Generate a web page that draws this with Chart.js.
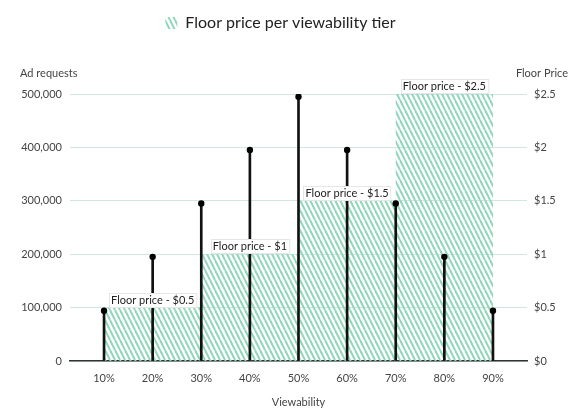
<!DOCTYPE html>
<html><head><meta charset="utf-8">
<script src="https://cdn.jsdelivr.net/npm/chart.js@4.4.0/dist/chart.umd.min.js"></script>
<style>html,body{margin:0;padding:0;background:#fff;}#wrap{width:579px;height:413px;}</style>
</head><body><div id="wrap"><canvas id="c"></canvas></div>
<script>
const categories = [10, 20, 30, 40, 50, 60, 70, 80, 90];
const adRequests = [94000, 195000, 295000, 395000, 495000, 395000, 295000, 195000, 94000];
const tierStarts = [10, 30, 50, 70, 90];
const tierPrices = [0.5, 1, 1.5, 2.5, 2.5];
const tierLabels = ['Floor price - $0.5', 'Floor price - $1', 'Floor price - $1.5', 'Floor price - $2.5'];
const tierLabelAt = [20, 40, 60, 80];
const leftTicks = [0, 100000, 200000, 300000, 400000, 500000];
const rightTicks = [0, 0.5, 1, 1.5, 2, 2.5];

const FONT = 'Lato, "Open Sans", sans-serif';

function makePattern() {
  const c = document.createElement('canvas');
  c.width = 5; c.height = 10;
  const x = c.getContext('2d');
  x.strokeStyle = '#8fd6bb';
  x.lineWidth = 2;
  for (const o of [-5, 0, 5]) {
    x.beginPath(); x.moveTo(o, 0); x.lineTo(o + 5, 10); x.stroke();
  }
  return x.createPattern(c, 'repeat');
}
const hatch = makePattern();

const legendSize = {
  id: 'legendSize',
  beforeLayout(chart) {
    const lg = chart.legend;
    if (lg && !lg._patched) {
      const orig = lg.fit;
      lg.fit = function () { orig.call(this); this.height = 88; };
      lg._patched = true;
    }
  },
  afterLayout(chart) {
    const lg = chart.legend;
    if (lg) { lg.left -= 9; lg.right -= 9; }
  }
};

const overlay = {
  id: 'overlay',
  afterDatasetsDraw(chart) {
    const ctx = chart.ctx;
    const xs = chart.scales.x, y2 = chart.scales.y2;
    ctx.save();
    ctx.font = '11px ' + FONT;
    ctx.fillStyle = '#444';
    ctx.textBaseline = 'middle';
    ctx.textAlign = 'left';
    ctx.fillText('Ad requests', 20, 73);
    ctx.textAlign = 'right';
    ctx.fillText('Floor Price', 568, 73);

    ctx.font = '11px ' + FONT;
    tierLabels.forEach((t, i) => {
      const cx = xs.getPixelForValue(tierLabelAt[i]);
      const top = y2.getPixelForValue(tierPrices[i]);
      const w = ctx.measureText(t).width + 4;
      const h = 14;
      const bx = Math.round(cx - w / 2) + 0.5, by = Math.round(top - h - 1) + 0.5;
      ctx.fillStyle = '#fff';
      ctx.fillRect(bx, by, w, h);
      ctx.strokeStyle = '#e6e6e6';
      ctx.lineWidth = 1;
      ctx.strokeRect(bx, by, w, h);
      ctx.fillStyle = '#222';
      ctx.textAlign = 'center';
      ctx.fillText(t, cx, by + h / 2);
    });
    ctx.restore();
  }
};

new Chart(document.getElementById('c'), {
  type: 'bar',
  data: {
    datasets: [
      {
        type: 'line',
        label: 'Floor price per viewability tier',
        data: tierStarts.map((x, i) => ({ x: x, y: tierPrices[i] })),
        yAxisID: 'y2',
        stepped: 'before',
        fill: 'origin',
        backgroundColor: hatch,
        borderColor: 'rgba(0,0,0,0)',
        borderWidth: 0,
        pointRadius: 0,
        order: 3
      },
      {
        type: 'bar',
        label: 'Ad requests stem',
        data: categories.map((x, i) => ({ x: x, y: adRequests[i] })),
        yAxisID: 'y',
        barThickness: 2,
        backgroundColor: '#111',
        order: 2
      },
      {
        type: 'line',
        label: 'Ad requests',
        data: categories.map((x, i) => ({ x: x, y: adRequests[i] })),
        yAxisID: 'y',
        showLine: false,
        pointRadius: 3.2,
        pointBackgroundColor: '#000',
        pointBorderWidth: 0,
        order: 1
      }
    ]
  },
  options: {
    responsive: true,
    maintainAspectRatio: false,
    animation: false,
    layout: { padding: { top: 6, left: 0, right: 0, bottom: 0 } },
    plugins: {
      legend: {
        display: true,
        position: 'top',
        labels: {
          filter: (item) => item.datasetIndex === 0,
          boxWidth: 12, boxHeight: 12,
          color: '#222',
          font: { family: FONT, size: 16 },
          padding: 9
        }
      },
      tooltip: { enabled: false }
    },
    scales: {
      x: {
        type: 'linear',
        offset: false,
        min: 3, max: 97,
        afterBuildTicks: (s) => { s.ticks = categories.map(v => ({ value: v })); },
        afterFit: (s) => { s.height = 52; },
        ticks: { callback: (v) => v + '%', color: '#444', font: { family: FONT, size: 11 }, padding: 3, maxRotation: 0 },
        grid: { display: false },
        border: { display: true, color: '#333', width: 1.5 },
        title: { display: true, text: 'Viewability', color: '#444', font: { family: FONT, size: 11 }, padding: { top: 4 } }
      },
      y: {
        position: 'left',
        min: 0, max: 500000,
        afterBuildTicks: (s) => { s.ticks = leftTicks.map(v => ({ value: v })); },
        afterFit: (s) => { s.width = 70; },
        ticks: { callback: (v) => v.toLocaleString('en-US'), color: '#444', font: { family: FONT, size: 11 }, padding: 8 },
        grid: { color: '#cfe9df', lineWidth: 1, drawTicks: false },
        border: { display: false }
      },
      y2: {
        position: 'right',
        min: 0, max: 2.5,
        afterBuildTicks: (s) => { s.ticks = rightTicks.map(v => ({ value: v })); },
        afterFit: (s) => { s.width = 52; },
        ticks: { callback: (v) => '$' + v, color: '#444', font: { family: FONT, size: 11 }, padding: 7 },
        grid: { display: false, drawTicks: false },
        border: { display: false }
      }
    }
  },
  plugins: [legendSize, overlay]
});
</script>
</body></html>
